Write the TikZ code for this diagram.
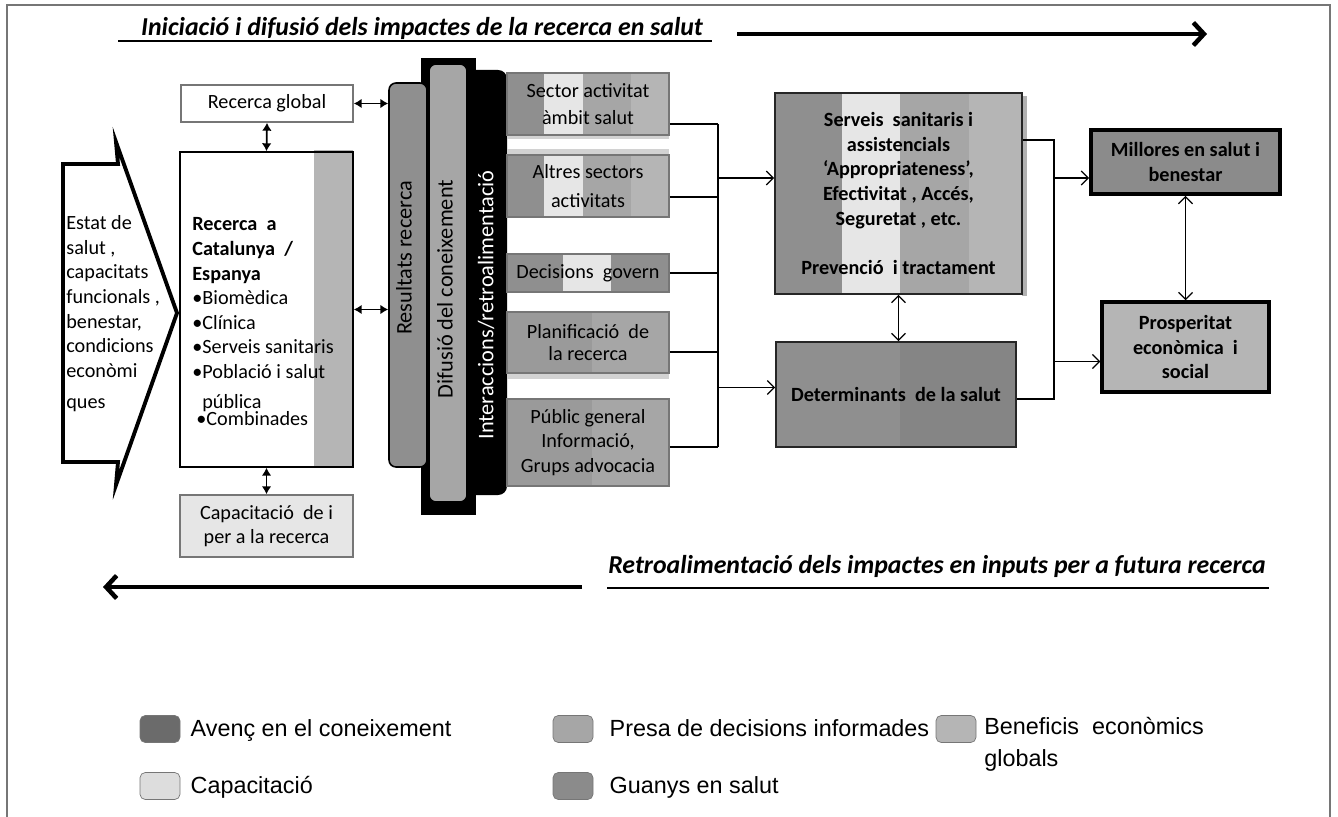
\documentclass[tikz,border=0pt]{standalone}
\usepackage{fontspec}
\setmainfont{Carlito}
\newfontfamily\legfont{Liberation Sans}
\usetikzlibrary{positioning,arrows.meta}

\definecolor{guany}{HTML}{8F8F8F}
\definecolor{capac}{HTML}{E6E6E6}
\definecolor{presa}{HTML}{A6A6A6}
\definecolor{benef}{HTML}{B5B5B5}
\definecolor{avenc}{HTML}{6B6B6B}
\definecolor{ombra}{HTML}{D2D2D2}
\definecolor{vora}{HTML}{767676}

\tikzset{
  wh/.style 2 args={minimum width=#1*0.02cm, minimum height=#2*0.02cm},
  txt/.style={font=\fontsize{11.5}{14}\selectfont, align=center},
  rtxt/.style={font=\fontsize{12.7}{15}\selectfont, rotate=90},
  ttl/.style={font=\fontsize{14.7}{17}\selectfont\bfseries\itshape},
  legtxt/.style={font=\legfont\fontsize{13.3}{18}\selectfont, inner sep=0pt},
  legline/.style={legtxt, text height=9.6pt, text depth=0.8pt},
  caixa/.style={draw=vora, line width=0.9pt, inner sep=0pt, txt},
  stripbox/.style={draw=vora, line width=0.9pt, inner sep=0pt, txt},
  fosca/.style={draw=black!85, line width=0.9pt, inner sep=0pt, txt, font=\fontsize{11.5}{14}\selectfont\bfseries},
  gruixuda/.style={draw=black, line width=2.2pt, inner sep=0pt, txt, font=\fontsize{11.5}{14}\selectfont\bfseries},
  col/.style={draw=black, line width=0.9pt, inner sep=0pt, rounded corners=4pt},
  swatch/.style={draw=vora, rounded corners=3pt, wh={40}{27}, inner sep=0pt},
  marc/.style={draw=vora, line width=1.1pt},
  con/.style={line width=0.7pt},
  arr/.style={con, -{Straight Barb[length=4pt,width=8pt]}},
  darr/.style={con, {Straight Barb[length=4pt,width=8pt]}-{Straight Barb[length=4pt,width=8pt]}},
  dlatex/.style={line width=1pt, {Latex[length=4.5pt,width=5.5pt]}-{Latex[length=4.5pt,width=5.5pt]}},
  bigarr/.style={line width=2.6pt, -{Straight Barb[length=6pt,width=13pt]}}
}

\begin{document}
\begin{tikzpicture}[x=0.02cm,y=-0.02cm]
	\useasboundingbox (0,0) rectangle (1338,817);
	\draw[marc] (7,817) -- (7,5) -- (1330,5) -- (1330,817);
	
	\node (ttop) [ttl] at (422,28) {Iniciació i difusió dels impactes de la recerca en salut};
	\draw[line width=1.2pt] (118,41) -- (712,41);
	\coordinate (fwd0) at (737,34);
	\coordinate (fwd1) at (1207,34);
	\draw[bigarr] (fwd0) -- (fwd1);
	
	\node (tbot) [ttl] at (937,566) {Retroalimentació dels impactes en inputs per a futura recerca};
	\draw[line width=1.2pt] (607,588) -- (1269,588);
	\coordinate (bwd0) at (582,587);
	\coordinate (bwd1) at (103,587);
	\draw[bigarr] (bwd0) -- (bwd1);
	
	% estat de salut
	\draw[line width=2.2pt, fill=white] (63,164) -- (118,164) -- (116,142) -- (177,313) -- (116,485) -- (118,462) -- (63,462) -- cycle;
	\node (estat) [txt, align=left, anchor=west, inner sep=0pt] at (66,314) {Estat de\\ salut ,\\ capacitats\\ funcionals ,\\ benestar,\\ condicions\\ econòmi\\[4pt] ques};
	
	% recerca
	\node (glob) [caixa, wh={172}{37}] at (267,103.5) {Recerca global};
	\fill[benef] (314,150) rectangle (353,467);
	\node (main) [draw, line width=0.9pt, inner sep=0pt, wh={173}{315}] at (266.5,309.5) {};
	\node (tmain) [txt, align=left, anchor=west, inner sep=0pt] at (192,322) {\textbf{Recerca~ a}\\ \textbf{Catalunya~ /}\\ \textbf{Espanya}\\ •Biomèdica\\ •Clínica\\ •Serveis sanitaris\\ •Població i salut\\[3pt] \hspace*{5.7pt}pública\\[-4pt] \hspace*{2.3pt}•Combinades};
	\node (capac) [caixa, fill=capac, wh={173}{62}] at (266.5,526) {Capacitació~ de i\\ per a la recerca};
	
	% columnes
	\fill (421,58) rectangle (476,515);
	\node (inter) [fill=black, rounded corners=5pt, inner sep=0pt, wh={41}{425}] at (486.5,282.5) {};
	\node (dif) [col, fill=presa, wh={38}{438}] at (448,283) {};
	\node (res) [col, fill=guany, wh={38}{384}] at (408,275) {};
	\node (tres) [rtxt] at (404,258) {Resultats recerca};
	\node (tdif) [rtxt] at (445,289) {Difusió del coneixement};
	\node (tint) [rtxt, text=white] at (486,305) {Interaccions/retroalimentació};
	
	% sectors
	\fill[guany] (507,72) rectangle (544,134);
	\fill[capac] (544,72) rectangle (583,134);
	\fill[presa] (583,72) rectangle (631,134);
	\fill[benef] (631,72) rectangle (669,134);
	\fill[ombra] (507,134) rectangle (669,139);
	\node (sect) [stripbox, font=\fontsize{11.5}{15.4}\selectfont, wh={162}{62}] at (588,104) {Sector activitat\\ àmbit salut};
	
	\fill[ombra] (507,149) rectangle (669,155);
	\fill[guany] (507,155) rectangle (544,217);
	\fill[capac] (544,155) rectangle (583,217);
	\fill[presa] (583,155) rectangle (631,217);
	\fill[benef] (631,155) rectangle (669,217);
	\node (altr) [stripbox, font=\fontsize{11.5}{16.5}\selectfont, wh={162}{62}] at (588,186) {Altres sectors\\ activitats};
	
	\fill[guany] (507,254) rectangle (563,292);
	\fill[capac] (563,254) rectangle (611,292);
	\fill[guany] (611,254) rectangle (669,292);
	\node (dec) [stripbox, wh={162}{38}] at (588,273) {Decisions~ govern};
	
	\fill[guany!90!white] (507,312) rectangle (592,373);
	\fill[presa] (592,312) rectangle (669,373);
	\fill[ombra] (507,373) rectangle (669,379);
	\node (plan) [stripbox, font=\fontsize{11.5}{13}\selectfont, wh={162}{61}] at (588,342.5) {Planificació~ de\\ la recerca};
	
	\fill[guany!90!white] (507,399) rectangle (592,486);
	\fill[presa] (592,399) rectangle (669,486);
	\node (pub) [stripbox, wh={162}{87}] at (588,442.5) {Públic general\\ Informació,\\ Grups advocacia};
	
	% serveis i determinants
	\fill[ombra!85!black] (1022,96) rectangle (1027,296);
	\fill[guany] (775,93) rectangle (842,294);
	\fill[capac] (842,93) rectangle (900,294);
	\fill[presa] (900,93) rectangle (969,294);
	\fill[benef] (969,93) rectangle (1022,294);
	\node (serv) [fosca, wh={247}{201}] at (898.5,193.5) {Serveis~ sanitaris i\\ assistencials\\ ‘Appropriateness’,\\ Efectivitat , Accés,\\ Seguretat , etc.\\[14pt] Prevenció~ i tractament};
	
	\fill[guany] (776,342) rectangle (900,447);
	\fill[guany!93!black] (900,342) rectangle (1016,447);
	\node (det) [fosca, wh={240}{105}] at (896,394.5) {Determinants~ de la salut};
	
	\node (mill) [gruixuda, fill=guany!97!black, wh={189}{64}] at (1185.5,162) {Millores en salut i\\ benestar};
	\node (prosp) [gruixuda, line width=2pt, fill=benef, wh={167}{90}] at (1185.5,347) {Prosperitat\\ econòmica~ i\\ social};
	
	% connectors
	\draw[dlatex] (glob.east) -- (glob.east -| res.west);
	\draw[dlatex] (main.east) -- (main.east -| res.west);
	\draw[dlatex] (glob.south) -- (main.north);
	\draw[dlatex] (main.south) -- (capac.north);
	
	\coordinate (jl) at (718,0);
	\coordinate (o1) at ([yshift=-0.4cm]sect.east);
	\coordinate (o2) at ([yshift=-0.22cm]altr.east);
	\coordinate (o3) at (dec.east);
	\coordinate (o4) at ([yshift=-0.19cm]plan.east);
	\coordinate (o5) at ([yshift=-0.09cm]pub.east);
	\draw[con] (o1) -- (o1 -| jl);
	\draw[con] (o2) -- (o2 -| jl);
	\draw[con] (o3) -- (o3 -| jl);
	\draw[con] (o4) -- (o4 -| jl);
	\draw[con] (o5) -- (o5 -| jl);
	\draw[con] (o1 -| jl) -- (o5 -| jl);
	\coordinate (i1) at ([yshift=0.31cm]serv.west);
	\coordinate (i2) at ([yshift=0.14cm]det.west);
	\draw[arr] (i1 -| jl) -- (i1);
	\draw[arr] (i2 -| jl) -- (i2);
	
	\coordinate (jr) at (1054,0);
	\coordinate (o6) at ([yshift=1.07cm]serv.east);
	\coordinate (o7) at ([yshift=-0.09cm]det.east);
	\coordinate (i3) at ([yshift=-0.32cm]mill.west);
	\coordinate (i4) at ([yshift=-0.29cm]prosp.west);
	\draw[con] (o6) -| (o7 -| jr) -- (o7);
	\draw[arr] (i3 -| jr) -- (i3);
	\draw[arr] (i4 -| jr) -- (i4);
	
	\draw[darr] (serv.south) -- (serv.south |- det.north);
	\draw[darr] (mill.south) -- (prosp.north);
	
	% llegenda
	\node (lg1) [swatch, fill=avenc] at (160,729) {};
	\node (lt1) [legline, right=0.2cm of lg1] {Avenç en el coneixement};
	\node (lg2) [swatch, fill=capac!96!black] at (160,786) {};
	\node (lt2) [legline, right=0.2cm of lg2] {Capacitació};
	\node (lg3) [swatch, fill=presa] at (573,729) {};
	\node (lt3) [legline, right=0.32cm of lg3] {Presa de decisions informades};
	\node (lg4) [swatch, fill=guany!97!black] at (573,786) {};
	\node (lt4) [legline, right=0.32cm of lg4] {Guanys en salut};
	\node (lg5) [swatch, fill=benef] at (956,729) {};
	\node (lt5) [legtxt, align=left, anchor=north west] at (984,717) {Beneficis~ econòmics\\ globals};
\end{tikzpicture}
\end{document}
